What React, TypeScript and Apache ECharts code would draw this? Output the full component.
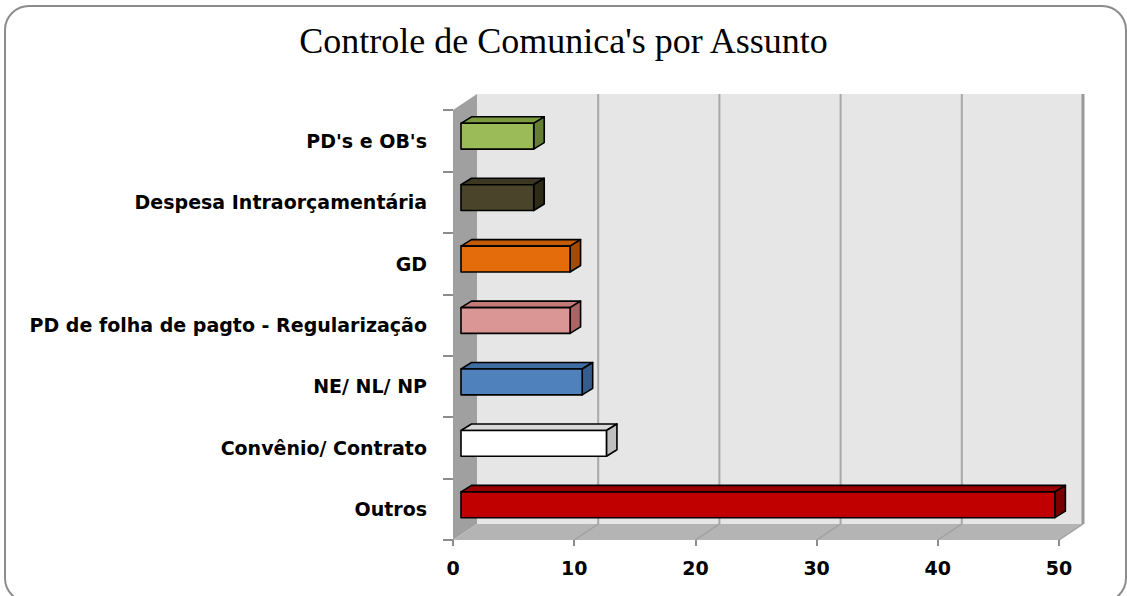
import React, { useEffect, useRef } from "react";
import * as echarts from "echarts";

const titleText = "Controle de Comunica's por Assunto";
const categories = [
  "PD's e OB's",
  "Despesa Intraorçamentária",
  "GD",
  "PD de folha de pagto - Regularização",
  "NE/ NL/ NP",
  "Convênio/ Contrato",
  "Outros",
];
const values = [6, 6, 9, 9, 10, 12, 49];
const frontColors = ["#9bbb59", "#4a452a", "#e46c0a", "#d99694", "#4f81bd", "#ffffff", "#c00000"];
const topColors = ["#7a9a3e", "#3b3720", "#c25a08", "#c27b79", "#3f6ca3", "#d9d9d9", "#990000"];
const sideColors = ["#647f32", "#2e2b19", "#a24a06", "#a86564", "#355c8c", "#bfbfbf", "#7a0000"];
const xTicks = [0, 10, 20, 30, 40, 50];

// depth geometry (pixels)
const WALL_DX = 24;
const WALL_DY = -16;
const BAR_DX = 8;
const BAR_DY = -4.5;
const BAR_DEPTH_X = 10.5;
const BAR_DEPTH_Y = -6.5;
const BAR_HALF = 12.9;

export default function App() {
  const ref = useRef<HTMLDivElement>(null);
  useEffect(() => {
    if (!ref.current) return;
    const chart = echarts.init(ref.current, undefined, { renderer: "svg" });
    const n = categories.length;
    const xMax = xTicks[xTicks.length - 1];

    const option: any = {
      animation: false,
      backgroundColor: "#ffffff",
      title: {
        text: titleText,
        left: "center",
        top: 18,
        textStyle: {
          fontFamily: "Liberation Serif",
          fontWeight: "normal",
          fontSize: 36,
          color: "#000",
        },
      },
      graphic: [
        {
          type: "rect",
          shape: { x: 5, y: 6, width: 1121, height: 596, r: 24 },
          style: { fill: "none", stroke: "#8c8c8c", lineWidth: 2 },
          z: 100,
        },
      ],
      grid: { left: 453, top: 110, width: 606, height: 430, containLabel: false },
      xAxis: {
        type: "value",
        min: 0,
        max: xMax,
        interval: 10,
        axisLine: { show: false },
        axisTick: { show: true, length: 6, lineStyle: { color: "#8c8c8c", width: 2 } },
        splitLine: { show: false },
        axisLabel: {
          margin: 18,
          fontFamily: "DejaVu Sans",
          fontWeight: "bold",
          fontSize: 19,
          color: "#000",
        },
      },
      yAxis: {
        type: "category",
        inverse: true,
        data: categories,
        axisLine: { show: false },
        axisTick: { show: true, length: 10, lineStyle: { color: "#8c8c8c", width: 2 } },
        axisLabel: {
          margin: 26,
          fontFamily: "DejaVu Sans",
          fontWeight: "bold",
          fontSize: 19,
          color: "#000",
        },
      },
      series: [
        {
          type: "custom",
          z: 1,
          silent: true,
          data: [[0, 0]],
          renderItem: (params: any, api: any) => {
            const band = api.size([0, 1])[1];
            const c0 = api.coord([0, 0]);
            const cN = api.coord([xMax, n - 1]);
            const top = c0[1] - band / 2;
            const bottom = cN[1] + band / 2;
            const left = c0[0];
            const right = cN[0];
            const children: any[] = [];
            children.push({
              type: "polygon",
              shape: {
                points: [
                  [left + WALL_DX, top + WALL_DY],
                  [right + WALL_DX, top + WALL_DY],
                  [right + WALL_DX, bottom + WALL_DY],
                  [left + WALL_DX, bottom + WALL_DY],
                ],
              },
              style: { fill: "#e6e6e6" },
            });
            children.push({
              type: "polygon",
              shape: {
                points: [
                  [left, top],
                  [left + WALL_DX, top + WALL_DY],
                  [left + WALL_DX, bottom + WALL_DY],
                  [left, bottom],
                ],
              },
              style: { fill: "#a0a0a0" },
            });
            children.push({
              type: "polygon",
              shape: {
                points: [
                  [left, bottom],
                  [left + WALL_DX, bottom + WALL_DY],
                  [right + WALL_DX, bottom + WALL_DY],
                  [right, bottom],
                ],
              },
              style: { fill: "#b4b4b4" },
            });
            xTicks.forEach((t) => {
              const px = api.coord([t, 0])[0];
              if (t > 0) {
                children.push({
                  type: "line",
                  shape: { x1: px + WALL_DX, y1: top + WALL_DY, x2: px + WALL_DX, y2: bottom + WALL_DY },
                  style: { stroke: t === xMax ? "#999999" : "#a8a8a8", lineWidth: t === xMax ? 3 : 2 },
                });
                children.push({
                  type: "line",
                  shape: { x1: px + WALL_DX, y1: bottom + WALL_DY, x2: px, y2: bottom },
                  style: { stroke: "#a0a0a0", lineWidth: 1.5 },
                });
              }
            });
            return { type: "group", children };
          },
        },
        {
          type: "custom",
          z: 3,
          data: values.map((v, i) => [v, i]),
          encode: { x: 0, y: 1 },
          renderItem: (params: any, api: any) => {
            const idx = params.dataIndex;
            const v = api.value(0);
            const cat = api.value(1);
            const p0 = api.coord([0, cat]);
            const p1 = api.coord([v, cat]);
            const fx0 = p0[0] + BAR_DX;
            const fx1 = p1[0] + BAR_DX;
            const cy = p0[1] + BAR_DY;
            const t = cy - BAR_HALF;
            const b = cy + BAR_HALF;
            const stroke = { stroke: "#000", lineWidth: 1.6, lineJoin: "round" };
            return {
              type: "group",
              children: [
                {
                  type: "polygon",
                  shape: {
                    points: [
                      [fx0, t],
                      [fx0 + BAR_DEPTH_X, t + BAR_DEPTH_Y],
                      [fx1 + BAR_DEPTH_X, t + BAR_DEPTH_Y],
                      [fx1, t],
                    ],
                  },
                  style: { fill: topColors[idx], ...stroke },
                },
                {
                  type: "polygon",
                  shape: {
                    points: [
                      [fx1, t],
                      [fx1 + BAR_DEPTH_X, t + BAR_DEPTH_Y],
                      [fx1 + BAR_DEPTH_X, b + BAR_DEPTH_Y],
                      [fx1, b],
                    ],
                  },
                  style: { fill: sideColors[idx], ...stroke },
                },
                {
                  type: "rect",
                  shape: { x: fx0, y: t, width: fx1 - fx0, height: b - t },
                  style: { fill: frontColors[idx], ...stroke },
                },
              ],
            };
          },
        },
      ],
    };
    chart.setOption(option);
    return () => chart.dispose();
  }, []);
  return (
    <div
      ref={ref}
      style={{ position: "fixed", left: 0, top: 0, width: 1127, height: 596 }}
    />
  );
}
